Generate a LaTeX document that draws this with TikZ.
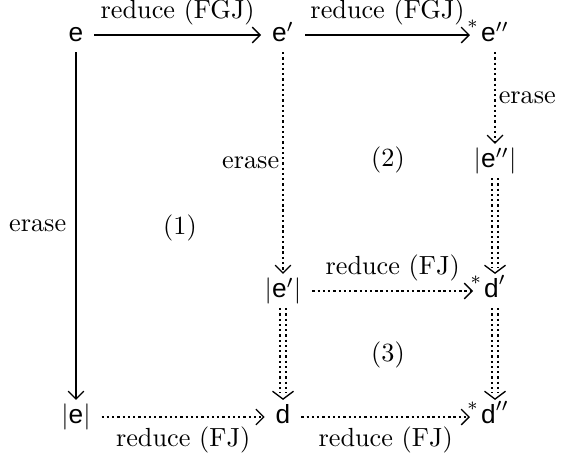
\documentclass[tikz,border=0pt]{standalone}
\usepackage{amsmath}
\usepackage{fontspec}
\usepackage{tikz}
\usetikzlibrary{arrows.meta,decorations.markings}
\newfontfamily\hvfont{Liberation Sans}
\newcommand{\tm}[1]{\text{\hvfont #1}}

\begin{document}
\begin{tikzpicture}[x=0.0134cm,y=-0.0134cm,
  term/.style={inner xsep=4pt, inner ysep=2pt, text height=1.6ex, text depth=.4ex},
  tip/.style={-{Straight Barb[length=3pt,width=6pt,line width=0.5pt]}},
  solidarr/.style={thick, tip},
  dotarr/.style={line width=0.9pt, dash pattern=on 0.9pt off 1.1pt, tip},
  dblarr/.style={line width=0.9pt, dash pattern=on 0.9pt off 1.1pt, double, double distance=1.6pt,
    shorten >=2.5pt, postaction={decorate},
    decoration={markings, mark=at position 1 with
      {\arrow[solid, line width=0.5pt]{Straight Barb[length=3pt,width=8pt]}}}},
  kleene/.style={at end, anchor=base, inner sep=0pt, xshift=1pt, yshift=2.6pt}]

\useasboundingbox (0,0) rectangle (561,459);

% terms
\node[term] (e)    at (76,35)   {$\tm{e}$};
\node[term] (e1)   at (283,35)  {$\tm{e}'$};
\node[term] (e2)   at (495,35)  {$\tm{e}''$};
\node[term] (ee2)  at (495,161) {$|\tm{e}''|$};
\node[term] (ee1)  at (283,291) {$|\tm{e}'|$};
\node[term] (d1)   at (495,291) {$\tm{d}'$};
\node[term] (ee)   at (76,417)  {$|\tm{e}|$};
\node[term] (d)    at (283,417) {$\tm{d}$};
\node[term] (d2)   at (495,417) {$\tm{d}''$};

% top row
\draw[solidarr] (e) -- node[above] {reduce (FGJ)} (e1);
\draw[solidarr] (e1) -- node[above] {reduce (FGJ)} node[kleene] {$\scriptstyle *$} (e2);

% erasing
\draw[solidarr] (e) -- node[left] {erase} (ee);
\draw[dotarr] (e1) -- node[left, inner sep=1pt] {erase} (ee1);
\draw[dotarr] (e2) -- node[right, inner sep=1pt] {erase} (ee2);

% FJ reductions
\draw[dotarr] (ee1) -- node[above] {reduce (FJ)} node[kleene] {$\scriptstyle *$} (d1);
\draw[dotarr] (ee) -- node[below] {reduce (FJ)} (d);
\draw[dotarr] (d) -- node[below] {reduce (FJ)} node[kleene] {$\scriptstyle *$} (d2);

% equalities
\draw[dblarr] (ee2) -- (d1);
\draw[dblarr] (ee1) -- (d);
\draw[dblarr] (d1) -- (d2);

\node (c1) at (180,228) {(1)};
\node (c2) at (388,160) {(2)};
\node (c3) at (388,355) {(3)};
\end{tikzpicture}
\end{document}
